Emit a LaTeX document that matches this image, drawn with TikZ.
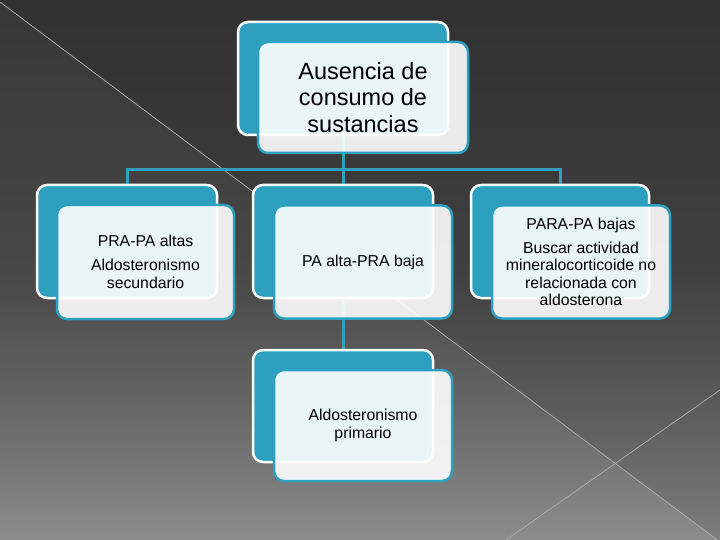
\documentclass[tikz,border=0pt]{standalone}
\usepackage{fontspec}
\setmainfont{Liberation Sans}
\definecolor{teal1}{RGB}{46,160,191}
\definecolor{c8c}{RGB}{140,140,140}
\definecolor{c64}{RGB}{100,100,100}
\definecolor{c47}{RGB}{71,71,71}
\definecolor{c35}{RGB}{55,55,55}
\definecolor{linegray}{RGB}{175,175,175}
\pgfdeclareverticalshading{bgshade}{100bp}{color(0bp)=(c8c); color(25bp)=(c8c); color(38bp)=(c64); color(50bp)=(c47); color(75bp)=(c35); color(100bp)=(c35)}
\pgfdeclarelayer{bgl}
\pgfdeclarelayer{connl}
\pgfsetlayers{bgl,connl,main}
\tikzset{
  backbox/.style={draw=white, line width=2.5pt, fill=teal1, rounded corners=10pt, inner sep=0pt},
  frontbox/.style={draw=teal1, line width=2.5pt, fill=white, fill opacity=0.9, text opacity=1, rounded corners=10pt, inner sep=0pt, align=center, font=\fontsize{15.8}{17.5}\selectfont},
  conn/.style={draw=teal1, line width=3pt},
  diag/.style={draw=linegray, line width=0.7pt}
}
\begin{document}
\begin{tikzpicture}[x=1pt,y=-1pt]
\useasboundingbox (0,0) rectangle (720,540);
\begin{pgfonlayer}{bgl}
\fill[shading=bgshade] (0,0) rectangle (720,540);
\fill[black, opacity=0.1] (0,2) -- (720,2) -- (720,542) -- cycle;
\fill[black, opacity=0.1] (0,0) rectangle (720,2);
\coordinate (d1a) at (0,2);
\coordinate (d1b) at (720,542);
\coordinate (d2a) at (720,390);
\coordinate (d2b) at (506,540);
\draw[diag] (d1a) -- (d1b);
\draw[diag] (d2a) -- (d2b);
\end{pgfonlayer}

% top
\node[backbox, minimum width=210pt, minimum height=113pt] (tb) at (343,78.5) {};
\node[frontbox, minimum width=210pt, minimum height=111pt, font=\fontsize{23.5}{26.5}\selectfont] (tf) at (363,97.5) {Ausencia de\\consumo de\\sustancias};
% left
\node[backbox, minimum width=180pt, minimum height=113pt] (lb) at (127,241.5) {};
\node[frontbox, minimum width=177pt, minimum height=114pt] (lf) at (145.5,262) {PRA-PA altas\\[6.5pt]Aldosteronismo\\secundario};
% middle
\node[backbox, minimum width=180pt, minimum height=113pt] (mb) at (343,241.5) {};
\node[frontbox, minimum width=178pt, minimum height=113pt] (mf) at (363,262) {PA alta-PRA baja};
% right
\node[backbox, minimum width=178pt, minimum height=113pt] (rb) at (560,241.5) {};
\node[frontbox, minimum width=178pt, minimum height=113pt] (rf) at (581,262) {PARA-PA bajas\\[6.5pt]Buscar actividad\\mineralocorticoide no\\relacionada con\\aldosterona};
% bottom
\node[backbox, minimum width=180pt, minimum height=112pt] (bb) at (343,406) {};
\node[frontbox, minimum width=178pt, minimum height=111pt] (bf) at (363,425.5) {Aldosteronismo\\primario};

\begin{pgfonlayer}{connl}
\coordinate (j) at (tb.south |- 0,170);
\draw[conn] (tb.south) -- (mb.north);
\draw[conn] (j) -| (lb.north);
\draw[conn] (j) -| (rb.north);
\draw[conn] (mb.south) -- (bb.north);
\end{pgfonlayer}
\end{tikzpicture}
\end{document}
